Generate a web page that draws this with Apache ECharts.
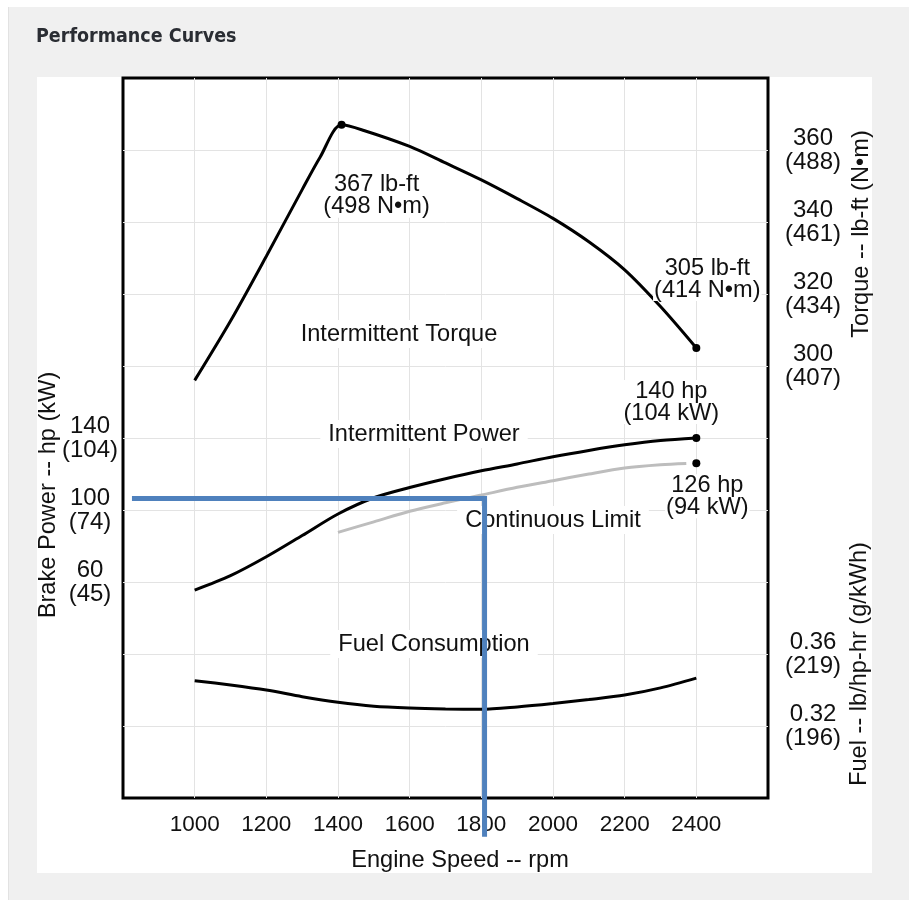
<!DOCTYPE html>
<html>
<head>
<meta charset="utf-8">
<title>Performance Curves</title>
<script src="https://cdn.jsdelivr.net/npm/echarts@6/dist/echarts.min.js"></script>
<style>
  html, body { margin: 0; padding: 0; background: #fff; }
  #chart { width: 909px; height: 900px; }
</style>
</head>
<body>
<div id="chart"></div>
<script>
// Engine speed axis
const rpmTicks = [1000, 1200, 1400, 1600, 1800, 2000, 2200, 2400];

// Intermittent torque (lb-ft)
const torqueRpm  = [1000, 1100, 1200, 1300, 1350, 1410, 1470, 1600, 1700, 1800, 1900, 2000, 2100, 2200, 2300, 2400];
const torqueLbft = [296, 312.5, 330.5, 349, 358, 367, 365.5, 361, 356.4, 351.7, 346.5, 341, 334.5, 326.7, 316.5, 305];

// Intermittent power (hp)
const powerRpm = [1000, 1100, 1200, 1300, 1400, 1500, 1600, 1700, 1800, 1900, 2000, 2100, 2200, 2300, 2400];
const powerHp  = [55.5, 63.5, 74, 85.8, 97.8, 106.8, 112.5, 117.4, 121.8, 125.6, 129.6, 133.1, 136.2, 138.6, 140];

// Continuous limit (hp)
const contRpm = [1400, 1500, 1600, 1700, 1800, 1900, 2000, 2100, 2200, 2300, 2372];
const contHp  = [87.6, 93.4, 99.3, 104, 108.3, 112.6, 116.3, 120, 123.3, 125.1, 125.8];

// Fuel consumption (lb/hp-hr)
const fuelRpm = [1000, 1100, 1200, 1300, 1400, 1500, 1600, 1700, 1800, 1900, 2000, 2100, 2200, 2300, 2400];
const fuelBsfc = [0.3452, 0.3428, 0.3400, 0.3363, 0.3332, 0.3310, 0.3300, 0.3295, 0.3293, 0.3306, 0.3325, 0.3347, 0.3372, 0.3412, 0.3466];

// Rated points
const torqueMarkRpm = [1410, 2400];
const torqueMarkLbft = [367, 305];
const torqueMarkNm = [498, 414];
const powerMarkRpm = [2400, 2400];
const powerMarkHp = [140, 126];
const powerMarkKw = [104, 94];

// Operating point guide lines
const guideRpm = [825, 1809, 1809];
const guideHp = [106.4, 106.4, -81.5];

// Tick labels (imperial / metric)
const powerTickHp = [60, 100, 140];
const powerTickKw = [45, 74, 104];
const torqueTickLbft = [300, 320, 340, 360];
const torqueTickNm = [407, 434, 461, 488];
const fuelTickLb = [0.32, 0.36];
const fuelTickG = [196, 219];

const FONT = '"Liberation Sans", Arial, sans-serif';
const INK = '#111';
const NOTE_SIZE = 23.6;

function pairLabel(values, metric, v) {
  for (let i = 0; i < values.length; i++) {
    if (Math.abs(values[i] - v) < 1e-6) return values[i] + '\n(' + metric[i] + ')';
  }
  return '';
}

const chart = echarts.init(document.getElementById('chart'), null, { renderer: 'canvas' });

const tickLabel = (margin) => ({
  fontFamily: FONT, fontSize: 24, lineHeight: 24, color: INK,
  align: 'center', margin: margin, showMinLabel: true, showMaxLabel: true
});

const plainText = (x, y, text, rot) => ({
  type: 'text', x: x, y: y, rotation: rot || 0, z: 1,
  style: {
    text: text, font: (rot ? '23.6px ' : NOTE_SIZE + 'px ') + FONT, fill: INK,
    align: 'center', verticalAlign: 'middle',
    backgroundColor: rot ? null : '#fff', padding: rot ? 0 : [2, 8]
  }
});

const pointLabel = (formatter) => ({
  show: true, position: 'inside', fontFamily: FONT, fontSize: NOTE_SIZE, lineHeight: 22, color: INK,
  textBorderWidth: 0, textBorderColor: 'transparent',
  align: 'center', verticalAlign: 'middle', backgroundColor: '#fff', padding: [0, 1],
  formatter: formatter
});

chart.setOption({
  animation: false,
  backgroundColor: '#fff',
  title: {
    text: 'Performance Curves', left: 36, top: 27, padding: 0,
    textStyle: { fontFamily: '"DejaVu Sans Condensed", "DejaVu Sans", sans-serif', fontWeight: 'bold', fontSize: 19.5, color: '#2a2d33' }
  },
  graphic: [
    { type: 'rect', z: -20, shape: { x: 8, y: 7, width: 901, height: 893 }, style: { fill: '#f0f0f0' } },
    { type: 'line', z: -19, shape: { x1: 8.5, y1: 7, x2: 8.5, y2: 900 }, style: { stroke: '#e2e2e2', lineWidth: 1 } },
    { type: 'rect', z: -18, shape: { x: 37, y: 77, width: 835, height: 796 }, style: { fill: '#fff' } },
    plainText(399, 334, 'Intermittent Torque'),
    plainText(424, 434, 'Intermittent Power'),
    plainText(553, 520, 'Continuous Limit'),
    plainText(434, 644, 'Fuel Consumption'),
    plainText(460, 860, 'Engine Speed -- rpm', 0.0001),
    plainText(48, 495, 'Brake Power -- hp (kW)', Math.PI / 2),
    plainText(861, 234, 'Torque -- lb-ft (N•m)', Math.PI / 2),
    plainText(859, 664, 'Fuel -- lb/hp-hr (g/kWh)', Math.PI / 2)
  ],
  grid: {
    left: 123, top: 78, width: 645, height: 720,
    show: true, backgroundColor: '#fff', borderColor: '#000', borderWidth: 3
  },
  xAxis: {
    type: 'value', min: 800, max: 2600, interval: 200,
    axisLine: { show: false }, axisTick: { show: false },
    splitLine: { show: true, showMinLine: false, showMaxLine: false, lineStyle: { color: '#e3e3e3', width: 1 } },
    axisLabel: {
      fontFamily: FONT, fontSize: 22.5, color: INK, margin: 15,
      formatter: v => rpmTicks.includes(v) ? String(v) : ''
    }
  },
  yAxis: [
    {
      type: 'value', position: 'left', min: -60, max: 340, interval: 40,
      axisLine: { show: false }, axisTick: { show: false },
      splitLine: { show: true, showMinLine: false, showMaxLine: false, lineStyle: { color: '#e3e3e3', width: 1 } },
      axisLabel: Object.assign(tickLabel(33), { formatter: v => pairLabel(powerTickHp, powerTickKw, v) })
    },
    {
      type: 'value', position: 'right', min: 180, max: 380, interval: 20,
      axisLine: { show: false }, axisTick: { show: false }, splitLine: { show: false },
      axisLabel: Object.assign(tickLabel(45), { formatter: v => pairLabel(torqueTickLbft, torqueTickNm, v) })
    },
    {
      type: 'value', position: 'right', min: 0.28, max: 0.68, interval: 0.04,
      axisLine: { show: false }, axisTick: { show: false }, splitLine: { show: false },
      axisLabel: Object.assign(tickLabel(45), { formatter: v => pairLabel(fuelTickLb, fuelTickG, v) })
    }
  ],
  series: [
    {
      name: 'Intermittent Torque', type: 'line', yAxisIndex: 1, smooth: 0.3, symbol: 'none',
      lineStyle: { color: '#000', width: 3 },
      data: torqueRpm.map((r, i) => [r, torqueLbft[i]])
    },
    {
      name: 'Continuous Limit', type: 'line', yAxisIndex: 0, smooth: 0.3, symbol: 'none',
      lineStyle: { color: '#bdbdbd', width: 3 },
      data: contRpm.map((r, i) => [r, contHp[i]])
    },
    {
      name: 'Intermittent Power', type: 'line', yAxisIndex: 0, smooth: 0.3, symbol: 'none',
      lineStyle: { color: '#000', width: 3 },
      data: powerRpm.map((r, i) => [r, powerHp[i]])
    },
    {
      name: 'Fuel Consumption', type: 'line', yAxisIndex: 2, smooth: 0.3, symbol: 'none',
      lineStyle: { color: '#000', width: 3 },
      data: fuelRpm.map((r, i) => [r, fuelBsfc[i]])
    },
    {
      name: 'Torque points', type: 'scatter', yAxisIndex: 1, symbolSize: 8,
      itemStyle: { color: '#000', opacity: 1 }, z: 4,
      data: torqueMarkRpm.map((r, i) => [r, torqueMarkLbft[i]]),
      label: pointLabel(p => torqueMarkLbft[p.dataIndex] + ' lb-ft\n(' + torqueMarkNm[p.dataIndex] + ' N•m)'),
      labelLayout: p => ({ dx: p.dataIndex === 0 ? 35 : 11, dy: p.dataIndex === 0 ? 71 : -69 })
    },
    {
      name: 'Power points', type: 'scatter', yAxisIndex: 0, symbolSize: 8,
      itemStyle: { color: '#000', opacity: 1 }, z: 4,
      data: powerMarkRpm.map((r, i) => [r, powerMarkHp[i]]),
      label: pointLabel(p => powerMarkHp[p.dataIndex] + ' hp\n(' + powerMarkKw[p.dataIndex] + ' kW)'),
      labelLayout: p => ({ dx: p.dataIndex === 0 ? -25 : 11, dy: p.dataIndex === 0 ? -36 : 33 })
    },
    {
      name: 'Operating point', type: 'line', yAxisIndex: 0, symbol: 'none', clip: false, z: 6,
      lineStyle: { color: '#4f81bd', width: 5, cap: 'butt', join: 'miter' },
      data: guideRpm.map((r, i) => [r, guideHp[i]])
    }
  ]
});
</script>
</body>
</html>
